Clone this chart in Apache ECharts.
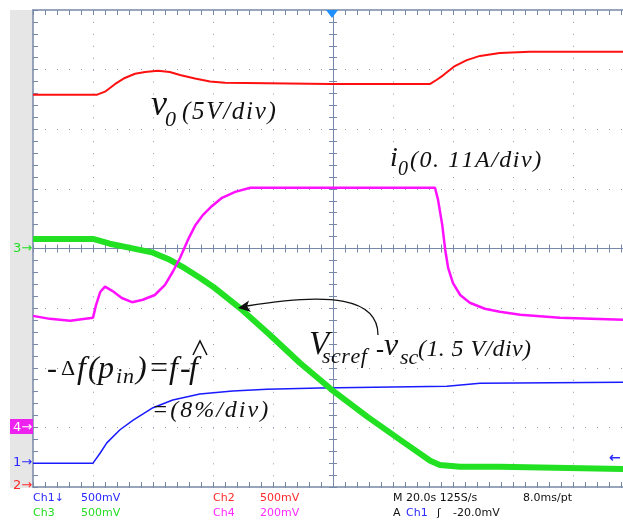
<!DOCTYPE html>
<html><head><meta charset="utf-8">
<script src="https://cdn.jsdelivr.net/npm/echarts/dist/echarts.min.js"></script>
<style>html,body{margin:0;padding:0;background:#fff}#c{width:623px;height:521px}</style>
</head><body><div id="c"></div>
<script>
// Time in seconds (20 s/div, 10 div); trace values in screen divisions measured from the bottom (8 div).
const redT = [0, 21.4, 24, 27.4, 30.6, 34, 37.4, 41.6, 45.6, 49, 54, 59, 64, 99, 132.4, 134.6, 136.6, 140.6, 144.6, 149, 155.6, 165.6, 200];
const redV = [6.58, 6.58, 6.63, 6.76, 6.86, 6.93, 6.96, 6.98, 6.96, 6.91, 6.85, 6.80, 6.78, 6.76, 6.76, 6.83, 6.9, 7.06, 7.16, 7.23, 7.28, 7.30, 7.30];

const magT = [0, 5.6, 12.4, 20, 21, 22.4, 24, 26.4, 29.6, 33, 36.6, 40.6, 44, 46.6, 49, 51.6, 54, 56.6, 59.6, 63, 67.4, 72.4, 134, 135, 136.4, 137.4, 138.4, 140, 142.4, 145.6, 150.6, 155.6, 162.4, 175.6, 200];
const magV = [2.87, 2.82, 2.79, 2.84, 3.05, 3.27, 3.36, 3.29, 3.17, 3.10, 3.14, 3.22, 3.39, 3.61, 3.84, 4.14, 4.38, 4.56, 4.71, 4.85, 4.95, 5.02, 5.02, 4.82, 4.40, 3.98, 3.67, 3.42, 3.22, 3.09, 2.99, 2.94, 2.89, 2.84, 2.80];

const greenT = [0, 20, 25.6, 32.4, 40, 45.6, 50.6, 55.6, 60, 69, 79, 89, 99.6, 111.4, 122.4, 132.4, 135.6, 142.4, 155.6, 200];
const greenV = [4.16, 4.16, 4.08, 4.01, 3.93, 3.81, 3.67, 3.51, 3.36, 3.0, 2.55, 2.08, 1.63, 1.18, 0.79, 0.44, 0.37, 0.34, 0.34, 0.30];

const blueT = [0, 20, 22.4, 24.6, 29, 33.4, 40, 46.6, 55.6, 66.6, 78, 95.6, 138, 149, 200];
const blueV = [0.40, 0.40, 0.57, 0.74, 0.96, 1.12, 1.33, 1.46, 1.56, 1.61, 1.64, 1.66, 1.69, 1.74, 1.76];

const chanRow1 = [["Ch1\u2193", "#2a2aff"], ["500mV", "#2a2aff"], ["Ch2", "#ff2a2a"], ["500mV", "#ff2a2a"], ["M 20.0s 125S/s", "#111"], ["8.0ms/pt", "#111"]];
const chanRow2 = [["Ch3", "#22dd22"], ["500mV", "#22dd22"], ["Ch4", "#ff2aff"], ["200mV", "#ff2aff"], ["A", "#111"], ["Ch1", "#2a2aff"], ["\u0283", "#111"], ["-20.0mV", "#111"]];

const zip = (a, b) => a.map((t, i) => [t, b[i]]);

const GRID = {left: 33, top: 10, width: 600, height: 477, outerBoundsMode: 'none'};
const AX = '#7888a8';
const DOT = '#8c9ab4';

function hidden(extra) {
  return Object.assign({type: 'value', axisLabel: {show: false}, axisTick: {show: false}, axisLine: {show: false}, splitLine: {show: false}}, extra);
}

const xAxes = [
  hidden({gridIndex: 0, min: 0, max: 200, interval: 20, splitLine: {show: true, lineStyle: {color: DOT, width: 1, type: [1, 10.93]}}}),
  hidden({gridIndex: 1, min: 0, max: 200, interval: 4, position: 'bottom', axisLine: {show: true, onZero: false, lineStyle: {color: AX, width: 1.5}}, axisTick: {show: true, inside: true, length: 5, lineStyle: {color: AX}}}),
  hidden({gridIndex: 1, min: 0, max: 200, interval: 4, position: 'top', axisLine: {show: true, onZero: false, lineStyle: {color: AX, width: 1.5}}, axisTick: {show: true, inside: true, length: 5, lineStyle: {color: AX}}}),
  hidden({gridIndex: 2, min: -100, max: 100, interval: 4, position: 'bottom', axisLine: {show: true, onZero: true, onZeroAxisIndex: 3, lineStyle: {color: AX, width: 1}}, axisTick: {show: true, inside: false, length: 4, lineStyle: {color: AX}}}),
  hidden({gridIndex: 2, min: -100, max: 100, interval: 4, position: 'top', axisLine: {show: true, onZero: true, onZeroAxisIndex: 3, lineStyle: {color: AX, width: 1}}, axisTick: {show: true, inside: false, length: 4, lineStyle: {color: AX}}})
];
const yAxes = [
  hidden({gridIndex: 0, min: 0, max: 8, interval: 1, splitLine: {show: true, lineStyle: {color: DOT, width: 1, type: [1, 11]}}}),
  hidden({gridIndex: 1, min: 0, max: 8, interval: 0.2, position: 'left', axisLine: {show: true, onZero: false, lineStyle: {color: AX, width: 1.5}}, axisTick: {show: true, inside: true, length: 5, lineStyle: {color: AX}}}),
  hidden({gridIndex: 1, min: 0, max: 8, interval: 0.2, position: 'right', axisLine: {show: true, onZero: false, lineStyle: {color: AX, width: 1.5}}, axisTick: {show: true, inside: true, length: 5, lineStyle: {color: AX}}}),
  hidden({gridIndex: 2, min: -4, max: 4, interval: 0.2, position: 'left', axisLine: {show: true, onZero: true, onZeroAxisIndex: 3, lineStyle: {color: AX, width: 1}}, axisTick: {show: true, inside: false, length: 4, lineStyle: {color: AX}}}),
  hidden({gridIndex: 2, min: -4, max: 4, interval: 0.2, position: 'right', axisLine: {show: true, onZero: true, onZeroAxisIndex: 3, lineStyle: {color: AX, width: 1}}, axisTick: {show: true, inside: false, length: 4, lineStyle: {color: AX}}})
];

function trace(t, v, color, w, z) {
  return {type: 'line', xAxisIndex: 0, yAxisIndex: 0, data: zip(t, v), showSymbol: false, symbol: 'none', z: z,
    lineStyle: {color: color, width: w}, itemStyle: {color: color}, silent: true};
}

const SERIF = (s) => 'italic ' + s + 'px "Liberation Serif", "DejaVu Serif", serif';
const SERIF_UP = (s) => s + 'px "Liberation Serif", "DejaVu Serif", serif';
const SERIF_B = (s) => 'bold ' + s + 'px "Liberation Serif", "DejaVu Serif", serif';
const SANS = (s) => s + 'px "DejaVu Sans", "Liberation Sans", sans-serif';

function txt(s, x, base, font, size, color) {
  return {type: 'text', x: x, y: base - 0.34 * size, z: 100,
    style: {text: s, font: font(size), fill: color || '#111', align: 'left', verticalAlign: 'middle'}};
}

// lays characters one after another with extra letter spacing
const meas = document.createElement('canvas').getContext('2d');
function spaced(s, x, base, font, size, sp) {
  const out = [];
  meas.font = font(size);
  Array.from(s).forEach(ch => {
    out.push(txt(ch, x, base, font, size));
    x += meas.measureText(ch).width + sp;
  });
  return out;
}

const graphics = [
  {type: 'rect', shape: {x: 10, y: 10, width: 23, height: 478}, style: {fill: '#e6e6e6'}, z: 0},
  {type: 'rect', shape: {x: 10, y: 419, width: 23, height: 15}, style: {fill: '#ee22ee'}, z: 1},
  txt('3\u2192', 13, 253, SANS, 13, '#22dd22'),
  txt('4\u2192', 13, 432, SANS, 13, '#ffffff'),
  txt('1\u2192', 13, 467, SANS, 13, '#2a2aff'),
  txt('2\u2192', 13, 490, SANS, 13, '#ff2a2a'),
  {type: 'text', x: 609, y: 458, z: 100, style: {text: '\u2190', font: 'bold 14px "DejaVu Sans"', fill: '#2a2aff', align: 'left', verticalAlign: 'middle'}},
  {type: 'polygon', shape: {points: [[326, 10], [338, 10], [332, 18]]}, style: {fill: '#1e90ff'}, z: 100},
  // v0 label
  txt('v', 151, 118, SERIF, 36),
  txt('0', 165, 128, SERIF, 22),
  ...spaced('(5V/div)', 182, 121, SERIF, 25, 1.7),
  // i0 label
  txt('i', 390, 168, SERIF, 28),
  txt('0', 398, 177, SERIF, 20),
  ...spaced('(0. 11A/div)', 410, 169, SERIF, 24, 1.5),
  // Vscref - vsc label
  txt('V', 309, 357, SERIF, 33),
  ...spaced('scref', 322, 365, SERIF, 22, 0.5),
  txt('-', 376, 359, SERIF_B, 24),
  txt('v', 384, 357, SERIF, 32),
  txt('sc', 400, 366, SERIF, 22),
  ...spaced('(1. 5 V/div)', 418, 358, SERIF, 24, 0.4),
  // delta f label
  txt('-', 47, 380, SERIF_UP, 30),
  txt('\u0394', 61, 377, SERIF_UP, 22),
  txt('f', 77, 380, SERIF, 32),
  txt('(', 88, 380, SERIF, 32),
  txt('p', 98, 380, SERIF, 32),
  ...spaced('in', 116, 385, SERIF, 22, 1),
  txt(')', 136, 380, SERIF, 32),
  txt('=', 148, 380, SERIF, 32),
  txt('f', 169, 380, SERIF, 32),
  txt('-', 180, 380, SERIF, 32),
  txt('f', 189, 380, SERIF, 32),
  {type: 'polyline', shape: {points: [[193, 355], [200, 341], [207, 355]]}, style: {stroke: '#111', lineWidth: 1.5, fill: null}, z: 100},
  ...spaced('=(8%/div)', 152, 419, SERIF, 24, 2),
  // curved arrow
  {type: 'bezierCurve', shape: {x1: 378, y1: 335, cpx1: 378, cpy1: 298, cpx2: 330, cpy2: 292, x2: 247, y2: 306}, style: {stroke: '#111', lineWidth: 1.3, fill: null}, z: 100},
  {type: 'polygon', shape: {points: [[238, 308], [251, 312], [247, 306.3], [249, 300.5]]}, style: {fill: '#111'}, z: 100}
];

const row1X = [33, 81, 213, 260, 393, 523];
const row2X = [33, 81, 213, 260, 393, 406, 437, 453];
chanRow1.forEach((c, i) => graphics.push({type: 'text', x: row1X[i], y: 498, z: 100, style: {text: c[0], font: SANS(11), fill: c[1], align: 'left', verticalAlign: 'middle'}}));
chanRow2.forEach((c, i) => graphics.push({type: 'text', x: row2X[i], y: 513, z: 100, style: {text: c[0], font: SANS(11), fill: c[1], align: 'left', verticalAlign: 'middle'}}));

const chart = echarts.init(document.getElementById('c'), null, {renderer: 'canvas'});
chart.setOption({
  animation: false,
  backgroundColor: '#ffffff',
  grid: [Object.assign({}, GRID), Object.assign({}, GRID), Object.assign({}, GRID)],
  xAxis: xAxes,
  yAxis: yAxes,
  series: [
    trace(blueT, blueV, '#1a1aff', 1.5, 3),
    trace(greenT, greenV, '#22e022', 6, 4),
    trace(magT, magV, '#ff10ff', 2.5, 5),
    trace(redT, redV, '#ff1010', 2, 6)
  ],
  graphic: graphics
});
</script>
</body></html>
